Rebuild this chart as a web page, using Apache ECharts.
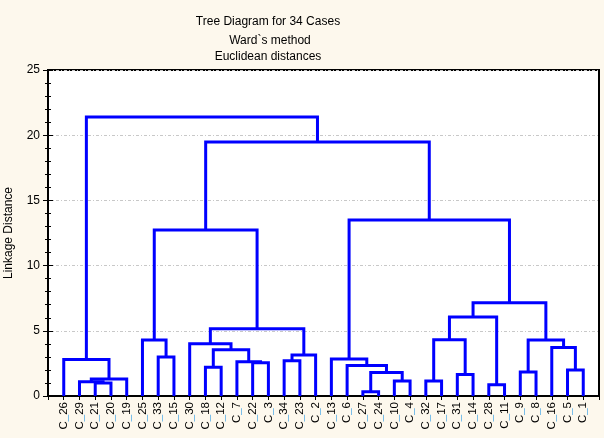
<!DOCTYPE html>
<html>
<head>
<meta charset="utf-8">
<script src="https://cdn.jsdelivr.net/npm/echarts@6/dist/echarts.min.js"></script>
<style>
  html, body { margin: 0; padding: 0; background: #fdf8ed; }
  #chart { width: 604px; height: 438px; }
</style>
</head>
<body>
<div id="chart"></div>
<script>
// leaf order along the x axis
const leaves = ['C_26','C_29','C_21','C_20','C_19','C_25','C_33','C_15','C_30','C_18',
  'C_12','C_7','C_22','C_3','C_34','C_23','C_2','C_13','C_6','C_27','C_24','C_10',
  'C_4','C_32','C_17','C_31','C_14','C_28','C_11','C_9','C_8','C_16','C_5','C_1'];

// linkage: [left, right, distance]; a number points to an earlier row
const links = [
  ['C_21', 'C_20', 1.0],   // 0
  ['C_29', 0, 1.1],        // 1
  [1, 'C_19', 1.3],        // 2
  ['C_26', 2, 2.8],        // 3
  ['C_33', 'C_15', 3.0],   // 4
  ['C_25', 4, 4.3],        // 5
  ['C_18', 'C_12', 2.2],   // 6
  ['C_22', 'C_3', 2.55],   // 7
  ['C_7', 7, 2.63],        // 8
  [6, 8, 3.55],            // 9
  ['C_30', 9, 4.0],        // 10
  ['C_34', 'C_23', 2.7],   // 11
  [11, 'C_2', 3.15],       // 12
  [10, 12, 5.15],          // 13
  [5, 13, 12.73],          // 14
  ['C_27', 'C_24', 0.33],  // 15
  ['C_10', 'C_4', 1.15],   // 16
  [15, 16, 1.8],           // 17
  ['C_6', 17, 2.33],       // 18
  ['C_13', 18, 2.84],      // 19
  ['C_32', 'C_17', 1.15],  // 20
  ['C_31', 'C_14', 1.64],  // 21
  [20, 21, 4.32],          // 22
  ['C_28', 'C_11', 0.87],  // 23
  [22, 23, 6.06],          // 24
  ['C_9', 'C_8', 1.84],    // 25
  ['C_5', 'C_1', 2.0],     // 26
  ['C_16', 26, 3.71],      // 27
  [25, 27, 4.3],           // 28
  [24, 28, 7.15],          // 29
  [19, 29, 13.5],          // 30
  [14, 30, 19.48],         // 31
  [3, 31, 21.4]            // 32
];

const yTicks = [0, 5, 10, 15, 20, 25];

// position (x, height) of a leaf or merged node
let nodePos = [];
function pos(ref) {
  if (typeof ref === 'string') return [leaves.indexOf(ref) + 1, 0];
  return nodePos[ref];
}
let segs = [];
links.forEach(function (l, i) {
  let a = pos(l[0]), b = pos(l[1]);
  segs.push([a[0], a[1], b[0], b[1], l[2]]);
  nodePos[i] = [(a[0] + b[0]) / 2, l[2]];
});

const font = 'Liberation Sans, Arial, sans-serif';
let ec = echarts.init(document.getElementById('chart'));

let option = {
  backgroundColor: '#fdf8ed',
  animation: false,
  textStyle: { fontFamily: font },
  title: [
    { text: 'Tree Diagram for 34 Cases', left: 263, top: 11, textAlign: 'center',
      textStyle: { fontSize: 12, fontWeight: 'normal', color: '#000', fontFamily: font } },
    { text: 'Ward`s method', left: 265, top: 30, textAlign: 'center',
      textStyle: { fontSize: 12, fontWeight: 'normal', color: '#000', fontFamily: font } },
    { text: 'Euclidean distances', left: 263, top: 46, textAlign: 'center',
      textStyle: { fontSize: 12, fontWeight: 'normal', color: '#000', fontFamily: font } }
  ],
  grid: {
    left: 48, right: 5, top: 70, bottom: 42,
    outerBoundsMode: 'none', containLabel: false,
    show: true, backgroundColor: '#fff', borderColor: '#000', borderWidth: 2
  },
  xAxis: [
    {
      type: 'value', min: 0, max: leaves.length + 1, interval: 1, position: 'bottom',
      axisLine: { lineStyle: { color: '#000', width: 2 } },
      axisTick: { show: false },
      splitLine: { show: false },
      axisLabel: {
        rotate: 90, margin: 6, fontSize: 11.5, color: '#000', fontFamily: font,
        formatter: function (v) {
          let n = leaves[v - 1];
          return n ? n.replace('_', '{u|_}') : '';
        },
        rich: { u: { color: '#4aa8e8', fontSize: 11.5, fontFamily: font } }
      }
    },
    {
      type: 'value', min: 0, max: leaves.length + 1, interval: 1, position: 'top',
      axisLine: { lineStyle: { color: '#000', width: 2 } },
      axisTick: { inside: true, length: 4, lineStyle: { color: '#000', width: 1 } },
      axisLabel: { show: false },
      splitLine: { show: false }
    }
  ],
  yAxis: [
    {
      type: 'value', min: yTicks[0], max: yTicks[yTicks.length - 1], interval: 5,
      name: 'Linkage Distance', nameLocation: 'middle', nameGap: 33,
      nameTextStyle: { fontSize: 12, color: '#000', fontFamily: font },
      axisLine: { show: true, lineStyle: { color: '#000', width: 2 } },
      axisTick: { show: true, inside: true, length: 5, lineStyle: { color: '#000', width: 1 } },
      minorTick: { show: true, splitNumber: 5, length: 3, lineStyle: { color: '#000', width: 1 } },
      axisLabel: { fontSize: 12, color: '#000', margin: 8, fontFamily: font },
      splitLine: { show: true, lineStyle: { color: '#c8c8c8', width: 1, type: [3, 2, 1, 2] } }
    },
    {
      type: 'value', min: yTicks[0], max: yTicks[yTicks.length - 1], interval: 5, position: 'right',
      axisLine: { show: true, lineStyle: { color: '#000', width: 2 } },
      axisTick: { show: true, inside: true, length: 5, lineStyle: { color: '#000', width: 1 } },
      minorTick: { show: true, splitNumber: 5, length: 3, lineStyle: { color: '#000', width: 1 } },
      axisLabel: { show: false },
      splitLine: { show: false }
    }
  ],
  series: [{
    type: 'custom',
    xAxisIndex: 0,
    yAxisIndex: 0,
    data: segs,
    renderItem: function (params, api) {
      let p1 = api.coord([api.value(0), api.value(1)]);
      let p2 = api.coord([api.value(0), api.value(4)]);
      let p3 = api.coord([api.value(2), api.value(4)]);
      let p4 = api.coord([api.value(2), api.value(3)]);
      return {
        type: 'polyline',
        shape: { points: [p1, p2, p3, p4] },
        style: { stroke: '#0000ff', lineWidth: 3, fill: null, lineJoin: 'miter' }
      };
    },
    encode: { x: [0, 2], y: [1, 3, 4] }
  }]
};
ec.setOption(option);
</script>
</body>
</html>
